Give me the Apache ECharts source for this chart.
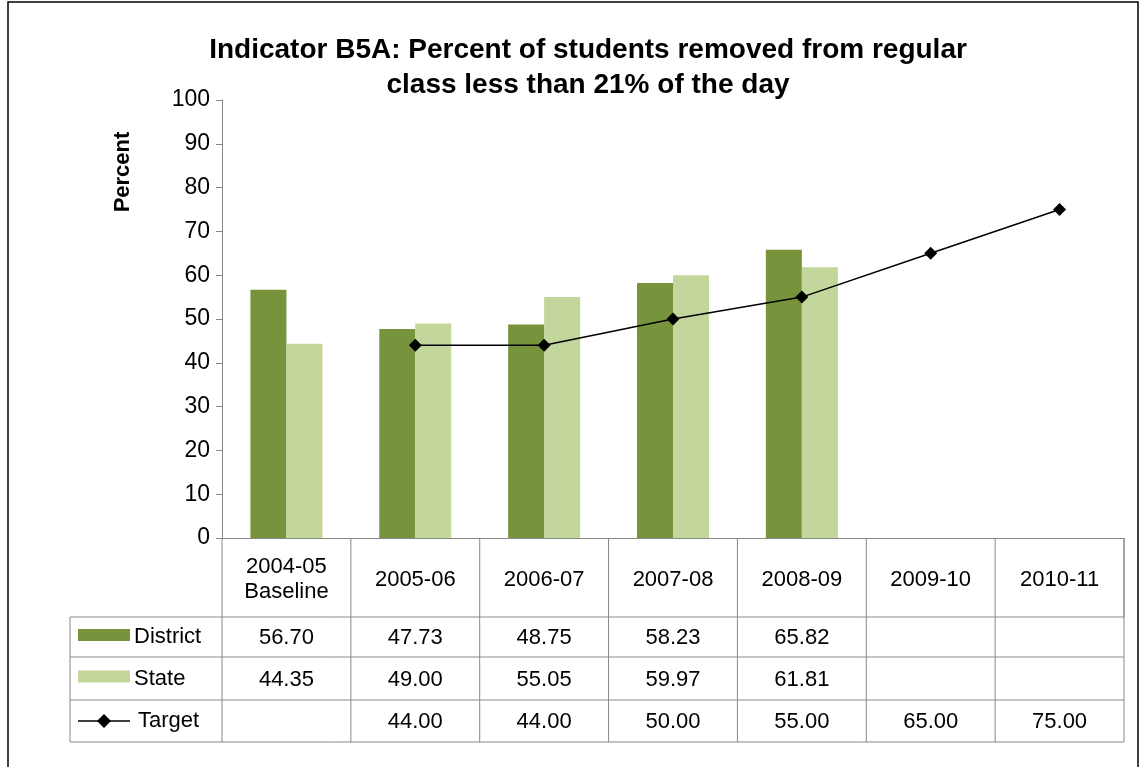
<!DOCTYPE html>
<html lang="en">
<head>
  <meta charset="UTF-8">
  <title>Result</title>
  <style>
    html, body { padding: 0; margin: 0; background: #fff; }
    #demo { width: 1144px; height: 767px; }
  </style>
  <script src="https://cdn.jsdelivr.net/npm/echarts@6/dist/echarts.min.js"></script>
</head>
<body>
  <div id="demo"></div>
  <script>
    const categories = ['2004-05\nBaseline', '2005-06', '2006-07', '2007-08', '2008-09', '2009-10', '2010-11']
    const district = [56.70, 47.73, 48.75, 58.23, 65.82, null, null]
    const state = [44.35, 49.00, 55.05, 59.97, 61.81, null, null]
    const target = [null, 44.00, 44.00, 50.00, 55.00, 65.00, 75.00]
    const rowNames = ['District', 'State', 'Target']
    const colors = ['#77933C', '#C3D69B', '#000000']

    const font = 'Arial, "Liberation Sans", sans-serif'
    const chart = echarts.init(document.getElementById('demo'))

    chart.setOption({
      animation: false,
      title: {
        text: 'Indicator B5A: Percent of students removed from regular\nclass less than 21% of the day',
        left: 583, top: 28, textAlign: 'center',
        textStyle: { fontFamily: font, fontSize: 28, fontWeight: 'bold', color: '#000', lineHeight: 35 }
      },
      grid: { left: 222, right: 20, top: 100, bottom: 229 },
      xAxis: {
        type: 'category', data: categories,
        axisLine: { lineStyle: { color: '#888' } },
        axisTick: { show: false }, axisLabel: { show: false }
      },
      yAxis: {
        type: 'value', min: 0, max: 100, interval: 10,
        axisLine: { show: true, lineStyle: { color: '#888' } },
        axisTick: { show: true, inside: false, length: 6, lineStyle: { color: '#888' } },
        splitLine: { show: false },
        axisLabel: { fontFamily: font, fontSize: 23, color: '#000', margin: 12 }
      },
      series: [
        { name: 'District', type: 'bar', data: district, barWidth: 36, barGap: '0%', itemStyle: { color: colors[0] } },
        { name: 'State', type: 'bar', data: state, barWidth: 36, itemStyle: { color: colors[1] } },
        { name: 'Target', type: 'line', data: target, symbol: 'diamond', symbolSize: 13,
          lineStyle: { color: '#000', width: 1.5 }, itemStyle: { color: '#000' } }
      ]
    })

    // data table below the plot
    const g = []
    const x0 = chart.convertToPixel({ xAxisIndex: 0 }, 0)
    const x1 = chart.convertToPixel({ xAxisIndex: 0 }, 1)
    const band = x1 - x0
    const left = x0 - band / 2
    const right = left + band * categories.length
    const yTop = chart.convertToPixel({ yAxisIndex: 0 }, 0)
    const rows = [yTop, 617, 657, 700, 742]
    const tableLeft = 70
    const line = (xa, ya, xb, yb) => g.push({ type: 'line', shape: { x1: xa, y1: ya, x2: xb, y2: yb }, style: { stroke: '#888', lineWidth: 1 } })
    const text = (x, y, t, align) => g.push({ type: 'text', x, y, style: { text: t, fontFamily: font, fontSize: 22, fill: '#000', align: align || 'center', verticalAlign: 'middle', lineHeight: 25 } })

    for (let i = 0; i <= categories.length; i++) line(left + band * i, rows[0], left + band * i, rows[4])
    line(tableLeft, rows[1], tableLeft, rows[4])
    for (let r = 1; r < rows.length; r++) line(tableLeft, rows[r], right, rows[r])
    line(right, rows[0], right, rows[1])

    categories.forEach((c, i) => text(left + band * i + band / 2, (rows[0] + rows[1]) / 2 + 2, c))
    const data = [district, state, target]
    data.forEach((arr, r) => {
      const cy = (rows[r + 1] + rows[r + 2]) / 2
      arr.forEach((v, i) => { if (v != null) text(left + band * i + band / 2, cy + 1, v.toFixed(2)) })
      text(r === 2 ? 138 : 134, cy, rowNames[r], 'left')
      if (r < 2) {
        g.push({ type: 'rect', shape: { x: 78, y: cy - 8, width: 52, height: 12 }, style: { fill: colors[r] } })
      } else {
        g.push({ type: 'line', shape: { x1: 78, y1: cy, x2: 130, y2: cy }, style: { stroke: '#000', lineWidth: 1.5 } })
        g.push({ type: 'polygon', shape: { points: [[104, cy - 7], [111, cy], [104, cy + 7], [97, cy]] }, style: { fill: '#000' } })
      }
    })

    g.push({ type: 'text', x: 123, y: 172, rotation: Math.PI / 2,
      style: { text: 'Percent', fontFamily: font, fontSize: 22, fontWeight: 'bold', fill: '#000', align: 'center', verticalAlign: 'middle' } })
    g.push({ type: 'rect', shape: { x: 8, y: 2, width: 1130, height: 780 }, style: { fill: 'none', stroke: '#000', lineWidth: 1.5 } })

    chart.setOption({ graphic: g })
  </script>
</body>
</html>
